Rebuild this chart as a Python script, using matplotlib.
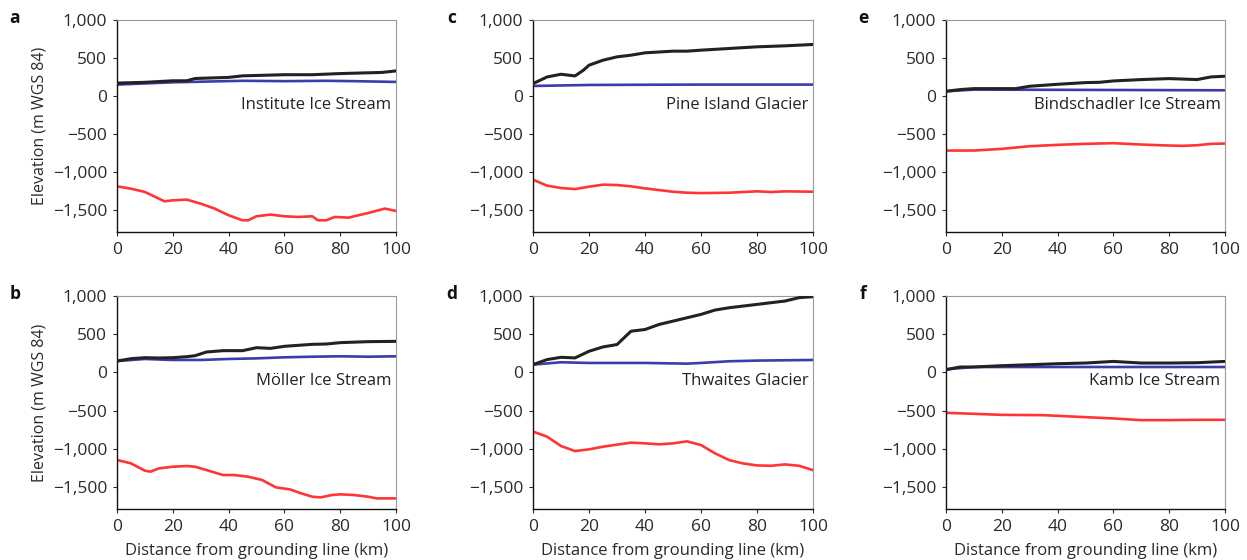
import matplotlib
matplotlib.use("Agg")
import matplotlib.pyplot as plt
from matplotlib.ticker import FuncFormatter

plt.rcParams['font.family'] = ['Open Sans', 'DejaVu Sans']

# ---- Data (km from grounding line, elevation m WGS84) ----
# a: Institute Ice Stream
a_sx = [0, 10, 20, 25, 28, 40, 45, 60, 70, 80, 90, 95, 100]
a_surf = [170, 180, 200, 200, 230, 245, 265, 280, 280, 295, 305, 310, 330]
a_fx = [0, 20, 45, 60, 75, 85, 100]
a_float = [150, 180, 200, 195, 200, 195, 185]
a_bx = [0, 5, 10, 17, 20, 25, 30, 35, 40, 45, 47, 50, 55, 60, 65, 70, 72, 75, 78, 83, 90, 96, 100]
a_bed = [-1189, -1220, -1263, -1386, -1373, -1364, -1417, -1482, -1570, -1636, -1636, -1583,
         -1561, -1583, -1592, -1583, -1636, -1636, -1592, -1601, -1540, -1482, -1513]

# b: Möller Ice Stream
b_sx = [0, 5, 10, 15, 20, 25, 28, 32, 38, 45, 50, 55, 60, 70, 75, 80, 90, 100]
b_surf = [148, 179, 192, 188, 192, 205, 218, 266, 284, 284, 323, 314, 341, 367, 371, 389, 402, 406]
b_fx = [0, 10, 20, 30, 40, 50, 60, 70, 80, 90, 100]
b_float = [148, 175, 162, 162, 175, 183, 197, 205, 210, 205, 210]
b_bx = [0, 5, 10, 12, 15, 20, 25, 28, 32, 38, 42, 47, 52, 57, 62, 66, 70, 73, 77, 80, 85, 90, 93, 100]
b_bed = [-1148, -1192, -1288, -1301, -1258, -1236, -1227, -1236, -1279, -1345, -1345, -1367,
         -1410, -1507, -1533, -1585, -1629, -1638, -1607, -1598, -1607, -1629, -1651, -1651]

# c: Pine Island Glacier
c_sx = [0, 5, 10, 15, 18, 20, 25, 30, 35, 40, 50, 55, 60, 70, 80, 90, 100]
c_surf = [163, 250, 286, 264, 339, 405, 471, 515, 537, 568, 590, 590, 603, 625, 647, 660, 678]
c_fx = [0, 20, 40, 60, 80, 100]
c_float = [132, 145, 148, 150, 150, 150]
c_bx = [0, 5, 10, 15, 20, 25, 30, 35, 40, 50, 55, 60, 70, 80, 85, 90, 100]
c_bed = [-1101, -1180, -1211, -1225, -1194, -1167, -1172, -1189, -1216, -1260, -1273, -1278,
         -1273, -1255, -1264, -1255, -1260]

# d: Thwaites Glacier
d_sx = [0, 5, 10, 15, 20, 25, 30, 35, 40, 45, 50, 55, 60, 65, 70, 80, 90, 95, 100]
d_surf = [101, 167, 197, 189, 276, 333, 364, 539, 561, 627, 671, 715, 759, 816, 846, 890, 934, 978, 991]
d_fx = [0, 10, 20, 40, 55, 60, 70, 80, 100]
d_float = [101, 132, 123, 123, 114, 123, 145, 154, 162]
d_bx = [0, 5, 10, 15, 20, 25, 30, 35, 40, 45, 50, 55, 60, 65, 70, 75, 80, 85, 90, 95, 100]
d_bed = [-776, -842, -965, -1031, -1009, -974, -947, -921, -930, -943, -930, -904, -952,
         -1061, -1149, -1193, -1219, -1224, -1206, -1224, -1281]

# e: Bindschadler Ice Stream
e_sx = [0, 5, 10, 25, 30, 40, 50, 55, 60, 70, 80, 90, 95, 100]
e_surf = [62, 84, 97, 97, 128, 154, 176, 180, 198, 216, 229, 216, 251, 260]
e_fx = [0, 10, 50, 100]
e_float = [62, 84, 80, 75]
e_bx = [0, 10, 20, 30, 40, 50, 60, 70, 80, 85, 90, 95, 100]
e_bed = [-718, -718, -696, -661, -643, -630, -621, -639, -652, -656, -648, -630, -626]

# f: Kamb Ice Stream
f_sx = [0, 5, 10, 20, 30, 40, 50, 60, 70, 80, 90, 100]
f_surf = [35, 70, 70, 87, 100, 113, 122, 143, 122, 122, 126, 143]
f_fx = [0, 10, 50, 100]
f_float = [40, 70, 70, 70]
f_bx = [0, 10, 20, 35, 50, 60, 70, 80, 90, 100]
f_bed = [-530, -543, -557, -561, -587, -604, -626, -626, -622, -622]

panels = [
    ('a', 'Institute Ice Stream', a_sx, a_surf, a_fx, a_float, a_bx, a_bed),
    ('c', 'Pine Island Glacier', c_sx, c_surf, c_fx, c_float, c_bx, c_bed),
    ('e', 'Bindschadler Ice Stream', e_sx, e_surf, e_fx, e_float, e_bx, e_bed),
    ('b', 'M\u00f6ller Ice Stream', b_sx, b_surf, b_fx, b_float, b_bx, b_bed),
    ('d', 'Thwaites Glacier', d_sx, d_surf, d_fx, d_float, d_bx, d_bed),
    ('f', 'Kamb Ice Stream', f_sx, f_surf, f_fx, f_float, f_bx, f_bed),
]

yticks = [-1500, -1000, -500, 0, 500, 1000]
xticks = [0, 20, 40, 60, 80, 100]

W, H = 1247, 560
fig = plt.figure(figsize=(W / 100, H / 100), dpi=100)

lefts = [117, 533, 946]
widths = [279, 280, 279]
tops = [20, 296]
bottoms = [232, 509]
label_x = [15, 452, 863]

def fmt(v, pos):
    s = f"{abs(int(v)):,}"
    return ("\u2212" + s) if v < 0 else s

for i, (lab, name, sx, surf, fx, flt, bx, bed) in enumerate(panels):
    row, col = divmod(i, 3)
    l = lefts[col] / W
    b = 1 - bottoms[row] / H
    w = widths[col] / W
    h = (bottoms[row] - tops[row]) / H
    ax = fig.add_axes([l, b, w, h])
    ax.plot(fx, flt, color='#3c3cae', lw=1.9, solid_capstyle='butt', zorder=2)
    ax.plot(sx, surf, color='#222222', lw=2.2, zorder=3)
    ax.plot(bx, bed, color='#ff3535', lw=1.9, zorder=2)
    ax.set_xlim(0, 100)
    ax.set_ylim(-1790, 1000)
    ax.set_yticks(yticks)
    ax.set_xticks(xticks)
    ax.yaxis.set_major_formatter(FuncFormatter(fmt))
    ax.tick_params(direction='out', length=3, width=0.8, labelsize=12.5,
                   colors='#2a2a2a', pad=4)
    for s in ['top', 'right']:
        ax.spines[s].set_color('#9a9a9a')
        ax.spines[s].set_linewidth(0.8)
    for s in ['left', 'bottom']:
        ax.spines[s].set_color('#111111')
        ax.spines[s].set_linewidth(1.0)
    ax.text(0.984, 0.60, name, transform=ax.transAxes, ha='right', va='center',
            fontsize=12, color='#222222')
    fig.text(label_x[col] / W, 1 - (tops[row] - 2) / H, lab, fontsize=12.5,
             fontweight='bold', ha='center', va='center', color='#111111')
    if col == 0:
        ax.set_ylabel('Elevation (m WGS 84)', fontsize=11.5, color='#2a2a2a', labelpad=4)
    if row == 1:
        ax.set_xlabel('Distance from grounding line (km)', fontsize=12,
                      color='#2a2a2a', labelpad=6)

fig.savefig('out.png', dpi=100)
